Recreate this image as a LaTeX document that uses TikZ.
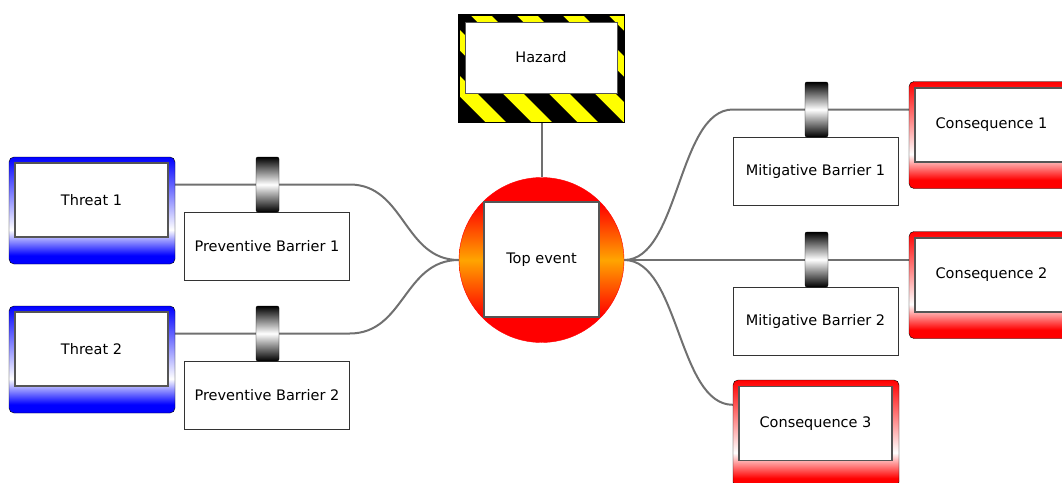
\documentclass[tikz,border=0pt]{standalone}
\usepackage{fontspec}
\setmainfont{DejaVu Sans}
\usetikzlibrary{calc,backgrounds}
\definecolor{linkgray}{HTML}{707070}
\definecolor{boxgray}{HTML}{555555}
\definecolor{hazyellow}{HTML}{FFFF00}
\definecolor{topred}{HTML}{FF0000}
\definecolor{toporange}{HTML}{FFA500}
\definecolor{threatblue}{HTML}{0000FF}
\definecolor{conred}{HTML}{FF0000}
\pgfdeclareverticalshading{threatshade}{100bp}{color(0bp)=(threatblue); color(29bp)=(threatblue); color(41bp)=(white); color(75bp)=(threatblue); color(100bp)=(threatblue)}
\pgfdeclareverticalshading{conshade}{100bp}{color(0bp)=(conred); color(29bp)=(conred); color(41bp)=(white); color(75bp)=(conred); color(100bp)=(conred)}
\pgfdeclareverticalshading{topshade}{100bp}{color(0bp)=(topred); color(33bp)=(topred); color(50bp)=(toporange); color(67bp)=(topred); color(100bp)=(topred)}

\begin{document}
\begin{tikzpicture}[x=1pt, y=-1pt,
    lbl/.style={font=\fontsize{14.5}{16}\selectfont},
    outer/.style={draw=black, rounded corners=5pt, minimum width=166pt, minimum height=107pt, inner sep=0pt},
    threatbox/.style={outer, shading=threatshade},
    conbox/.style={outer, shading=conshade},
    textbox/.style={lbl, draw=boxgray, line width=1.5pt, fill=white, minimum width=153pt, minimum height=74pt, inner sep=0pt},
    barrierbox/.style={lbl, draw=black!80, fill=white, minimum width=165pt, minimum height=68pt, inner sep=0pt},
    handle/.style={draw=black, rounded corners=2pt, minimum width=23pt, minimum height=55pt, inner sep=0pt,
                   top color=black, bottom color=black, middle color=white},
    link/.style={draw=linkgray, line width=2pt}]
  \clip (0,0) rectangle (1062,482);
  % threats
  \node[threatbox] (threat1) at (92,210.5) {};
  \node[textbox] (threat1txt) at (91.5,200) {Threat 1};
  \node[threatbox] (threat2) at (92,359.5) {};
  \node[textbox] (threat2txt) at (91.5,349) {Threat 2};
  % preventive barriers
  \node[barrierbox] (pb1) at (267,246) {Preventive Barrier 1};
  \node[handle] (h1) at (267.5,184.5) {};
  \node[barrierbox] (pb2) at (267,395.5) {Preventive Barrier 2};
  \node[handle] (h2) at (267.5,333.5) {};
  % hazard
  \node[draw=black, fill=hazyellow, minimum width=165pt, minimum height=107pt, inner sep=0pt] (hazard) at (541.5,68.5) {};
  \begin{scope}
    \clip (hazard.north west) rectangle (hazard.south east);
    \foreach \x in {261,307,...,629}
      \fill[black] (\x,15) -- ++(25,0) -- ++(107,107) -- ++(-25,0) -- cycle;
  \end{scope}
  \draw[line width=1pt] (hazard.north west) rectangle (hazard.south east);
  \node[textbox, line width=1pt, minimum width=152pt, minimum height=71pt] (hazardtxt) at (541,57.5) {Hazard};
  % top event
  \node[circle, draw=topred, shading=topshade, minimum size=165pt, inner sep=0pt] (topevent) at (541.5,260) {};
  \node[textbox, minimum width=115pt, minimum height=115pt] (toptxt) at (541.5,259.5) {Top event};
  % mitigative barriers
  \node[barrierbox] (mb1) at (815.5,171.5) {Mitigative Barrier 1};
  \node[handle] (h3) at (816.5,109.5) {};
  \node[barrierbox] (mb2) at (815.5,321) {Mitigative Barrier 2};
  \node[handle] (h4) at (816.5,259.5) {};
  % consequences
  \node[conbox] (con1) at (992,135) {};
  \node[textbox] (con1txt) at (991.5,125) {Consequence 1};
  \node[conbox] (con2) at (992,285) {};
  \node[textbox] (con2txt) at (991.5,275) {Consequence 2};
  \node[conbox] (con3) at (816,433.5) {};
  \node[textbox] (con3txt) at (815.5,423.5) {Consequence 3};
  % links
  \begin{pgfonlayer}{background}
    \draw[link] (threat1.east |- h1) -- (pb1.east |- h1) .. controls +(55,0) and +(-55,0) .. (topevent.west);
    \draw[link] (threat2.east |- h2) -- (pb2.east |- h2) .. controls +(55,0) and +(-55,0) .. (topevent.west);
    \draw[link] (hazard.south) -- (topevent.north);
    \draw[link] (topevent.east) .. controls +(55,0) and +(-55,0) .. (mb1.west |- h3) -- (con1.west |- h3);
    \draw[link] (topevent.east) -- (con2.west |- topevent.east);
    \draw[link] (topevent.east) .. controls +(55,0) and +(-55,0) .. ($(con3.north west)+(0,25)$);
  \end{pgfonlayer}
\end{tikzpicture}
\end{document}
